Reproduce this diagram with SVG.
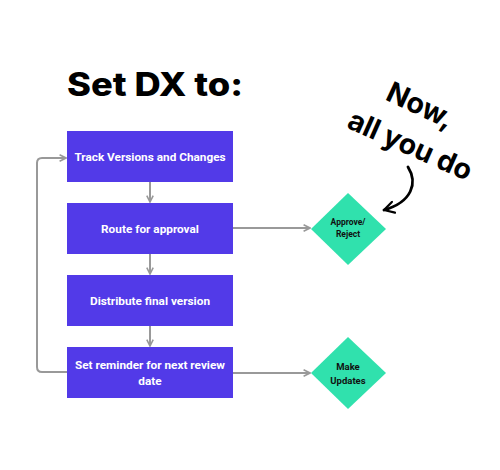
<svg xmlns="http://www.w3.org/2000/svg" width="500" height="470" viewBox="0 0 500 470">
<defs>
<style>
.box{fill:#523ae8;}
.bt{fill:#fff;font-family:Roboto,"Liberation Sans",sans-serif;font-weight:700;font-size:11.8px;text-anchor:middle;}
.dia{fill:#30e1ad;}
.dt{fill:#111;font-family:Roboto,"Liberation Sans",sans-serif;font-weight:700;text-anchor:middle;}
.con{fill:none;stroke:#999;stroke-width:2;}
.hand{fill:#000;font-family:Inter,"Liberation Sans",sans-serif;font-weight:700;font-size:28.5px;text-anchor:middle;}
</style>
<marker id="arr" viewBox="0 0 10 10" refX="9" refY="5" markerWidth="4" markerHeight="4" orient="auto" markerUnits="strokeWidth">
<path d="M1,1 L9,5 L1,9" fill="none" stroke="#999" stroke-width="2"/>
</marker>
<marker id="barr" viewBox="0 0 10 10" refX="8" refY="5" markerWidth="5" markerHeight="5" orient="auto" markerUnits="strokeWidth">
<path d="M1,1 L8,5 L1,9" fill="none" stroke="#000" stroke-width="1.6" stroke-linecap="round" stroke-linejoin="round"/>
</marker>
</defs>
<rect width="500" height="470" fill="#fff"/>
<text x="67" y="96" font-family="Inter,'Liberation Sans',sans-serif" font-weight="800" font-size="32" fill="#000" textLength="176" lengthAdjust="spacingAndGlyphs">Set DX to:</text>
<g id="connectors">
<line class="con" x1="150" y1="182" x2="150" y2="202" marker-end="url(#arr)"/>
<line class="con" x1="150" y1="254" x2="150" y2="274" marker-end="url(#arr)"/>
<line class="con" x1="150" y1="326" x2="150" y2="346" marker-end="url(#arr)"/>
<line class="con" x1="233" y1="228" x2="310" y2="228" marker-end="url(#arr)"/>
<line class="con" x1="233" y1="373" x2="310" y2="373" marker-end="url(#arr)"/>
<path class="con" d="M67,372 H42 Q37,372 37,367 V163 Q37,158 42,158 H66" marker-end="url(#arr)"/>
</g>
<g id="n1"><rect class="box" x="67" y="131" width="166" height="51"/><text class="bt" x="150" y="161">Track Versions and Changes</text></g>
<g id="n2"><rect class="box" x="67" y="203" width="166" height="51"/><text class="bt" x="150" y="233">Route for approval</text></g>
<g id="n3"><rect class="box" x="67" y="275" width="166" height="51"/><text class="bt" x="150" y="305">Distribute final version</text></g>
<g id="n4"><rect class="box" x="67" y="347" width="166" height="51"/><text class="bt" x="150" y="369">Set reminder for next review</text><text class="bt" x="150" y="385">date</text></g>
<g id="d1"><polygon class="dia" points="348,193 386,229 348,265 311,229"/><text class="dt" x="348" y="225" font-size="8.5">Approve/</text><text class="dt" x="348" y="237" font-size="8.5">Reject</text></g>
<g id="d2"><polygon class="dia" points="348,337 386,373 348,409 311,373"/><text class="dt" x="348" y="370" font-size="9.5">Make</text><text class="dt" x="348" y="384" font-size="9.5">Updates</text></g>
<g id="note">
<text class="hand" x="420" y="115" transform="rotate(25 420 106)">Now,</text>
<text class="hand" x="410" y="155" transform="rotate(24 410 146)">all you do</text>
<path d="M408,167 C418,183 412,202 384,210" fill="none" stroke="#000" stroke-width="2.8" stroke-linecap="round" marker-end="url(#barr)"/>
</g>
</svg>
